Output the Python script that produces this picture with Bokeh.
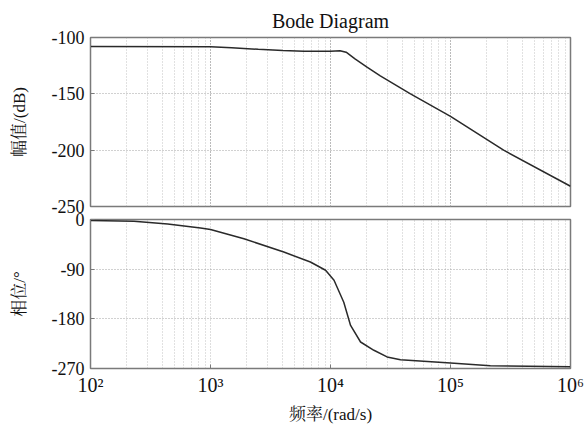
from bokeh.plotting import figure
from bokeh.layouts import column
from bokeh.models import FixedTicker, LogTicker
from bokeh.embed import file_html
from bokeh.resources import INLINE

# ---- data ----
mag_freq = [100, 1000, 1500, 2500, 4000, 6000, 10000, 12000, 13500, 16000, 20000,
            26000, 46400, 100000, 277000, 1000000]
mag_db = [-108, -108.2, -109, -110.5, -111.5, -112.3, -112.3, -111.8, -113, -119,
          -126, -134, -150, -170, -200, -232]

ph_freq = [100, 230, 440, 826, 1000, 1900, 4080, 6800, 9100, 10700, 12900, 14700,
           17800, 23000, 29600, 38300, 100000, 215000, 1000000]
ph_deg = [-2, -3, -8, -15.5, -18, -35, -59, -77, -92, -110, -150, -192,
          -222, -237, -249, -254, -260, -265, -267]

mag_ticks = [-250, -200, -150, -100]
mag_tick_labels = {-250: "-250", -200: "-200", -150: "-150", -100: "-100"}
ph_ticks = [-270, -180, -90, 0]
ph_tick_labels = {-270: "-270", -180: "-180", -90: "-90", 0: "0"}
x_ticks = [1e2, 1e3, 1e4, 1e5, 1e6]
x_tick_labels = {1e2: "10²", 1e3: "10³", 1e4: "10⁴", 1e5: "10⁵", 1e6: "10⁶"}

title_text = "Bode Diagram"
mag_label = "幅值/(dB)"
ph_label = "相位/°"
x_label = "频率/(rad/s)"

FONT = "'Liberation Serif', 'Noto Serif CJK SC', 'Noto Sans CJK SC', serif"
FRAME = "#7a7a7a"
GRID = "#9a9a9a"
LINE = "#2a2a2a"
TXT = "#111111"


def style(p, yticks, ylabels):
    p.outline_line_color = FRAME
    p.outline_line_width = 1.5
    p.yaxis.ticker = FixedTicker(ticks=yticks)
    p.yaxis.major_label_overrides = ylabels
    for ax in p.yaxis + p.xaxis:
        ax.axis_line_color = FRAME
        ax.major_tick_line_color = FRAME
        ax.minor_tick_line_color = None
        ax.major_tick_in = 4
        ax.major_tick_out = 0
        ax.major_label_text_font = FONT
        ax.major_label_text_font_size = "18px"
        ax.major_label_text_color = TXT
        ax.axis_label_text_font = FONT
        ax.axis_label_text_font_size = "17px"
        ax.axis_label_text_font_style = "normal"
        ax.axis_label_text_color = TXT
    p.yaxis.major_label_standoff = 6
    p.yaxis.axis_label_standoff = 20
    p.xgrid.grid_line_color = GRID
    p.xgrid.grid_line_dash = "1 2"
    p.xgrid.grid_line_alpha = 0.65
    p.xgrid.minor_grid_line_color = GRID
    p.xgrid.minor_grid_line_dash = "1 2"
    p.xgrid.minor_grid_line_alpha = 0.6
    p.ygrid.grid_line_color = GRID
    p.ygrid.grid_line_dash = "1 2"
    p.ygrid.grid_line_alpha = 0.9
    p.background_fill_color = "white"


# top panel: frame 37..206, generous bottom border so "-250" is not clipped
top = figure(width=586, height=226, frame_width=480, frame_height=169,
             x_axis_type="log", x_range=(1e2, 1e6), y_range=(-250, -100),
             output_backend="svg", toolbar_location=None,
             min_border_left=90, min_border_right=16, min_border_top=37,
             min_border_bottom=20, title=title_text)
top.border_fill_color = "white"
top.title.text_font = FONT
top.title.text_font_size = "20px"
top.title.text_font_style = "normal"
top.title.text_color = TXT
top.title.align = "center"
top.title.standoff = 12
style(top, mag_ticks, mag_tick_labels)
top.xaxis.ticker = LogTicker(desired_num_ticks=5, num_minor_ticks=10)
top.xaxis.visible = False
top.yaxis.axis_label = mag_label
top.line(x=mag_freq, y=mag_db, line_color=LINE, line_width=1.5)

# bottom panel overlaps the top one's lower border (transparent border fill)
bot = figure(width=586, height=219, frame_width=480, frame_height=149,
             x_axis_type="log", x_range=(1e2, 1e6), y_range=(-270, 0),
             output_backend="svg", toolbar_location=None,
             min_border_left=90, min_border_right=16, min_border_top=13,
             min_border_bottom=57, margin=(-20, 0, 0, 0))
bot.border_fill_color = None
bot.border_fill_alpha = 0
style(bot, ph_ticks, ph_tick_labels)
bot.xaxis.ticker = FixedTicker(ticks=x_ticks,
                               minor_ticks=[m * 10 ** e for e in range(2, 6) for m in range(2, 10)])
bot.xaxis.major_label_overrides = x_tick_labels
bot.xaxis.major_label_text_font_size = "20px"
bot.xaxis.major_label_standoff = 1
bot.xaxis.axis_label = x_label
bot.xaxis.axis_label_standoff = 6
bot.yaxis.axis_label = ph_label
bot.line(x=ph_freq, y=ph_deg, line_color=LINE, line_width=1.5)

layout = column(top, bot, spacing=0)
open("out.html", "w").write(file_html(layout, INLINE))
